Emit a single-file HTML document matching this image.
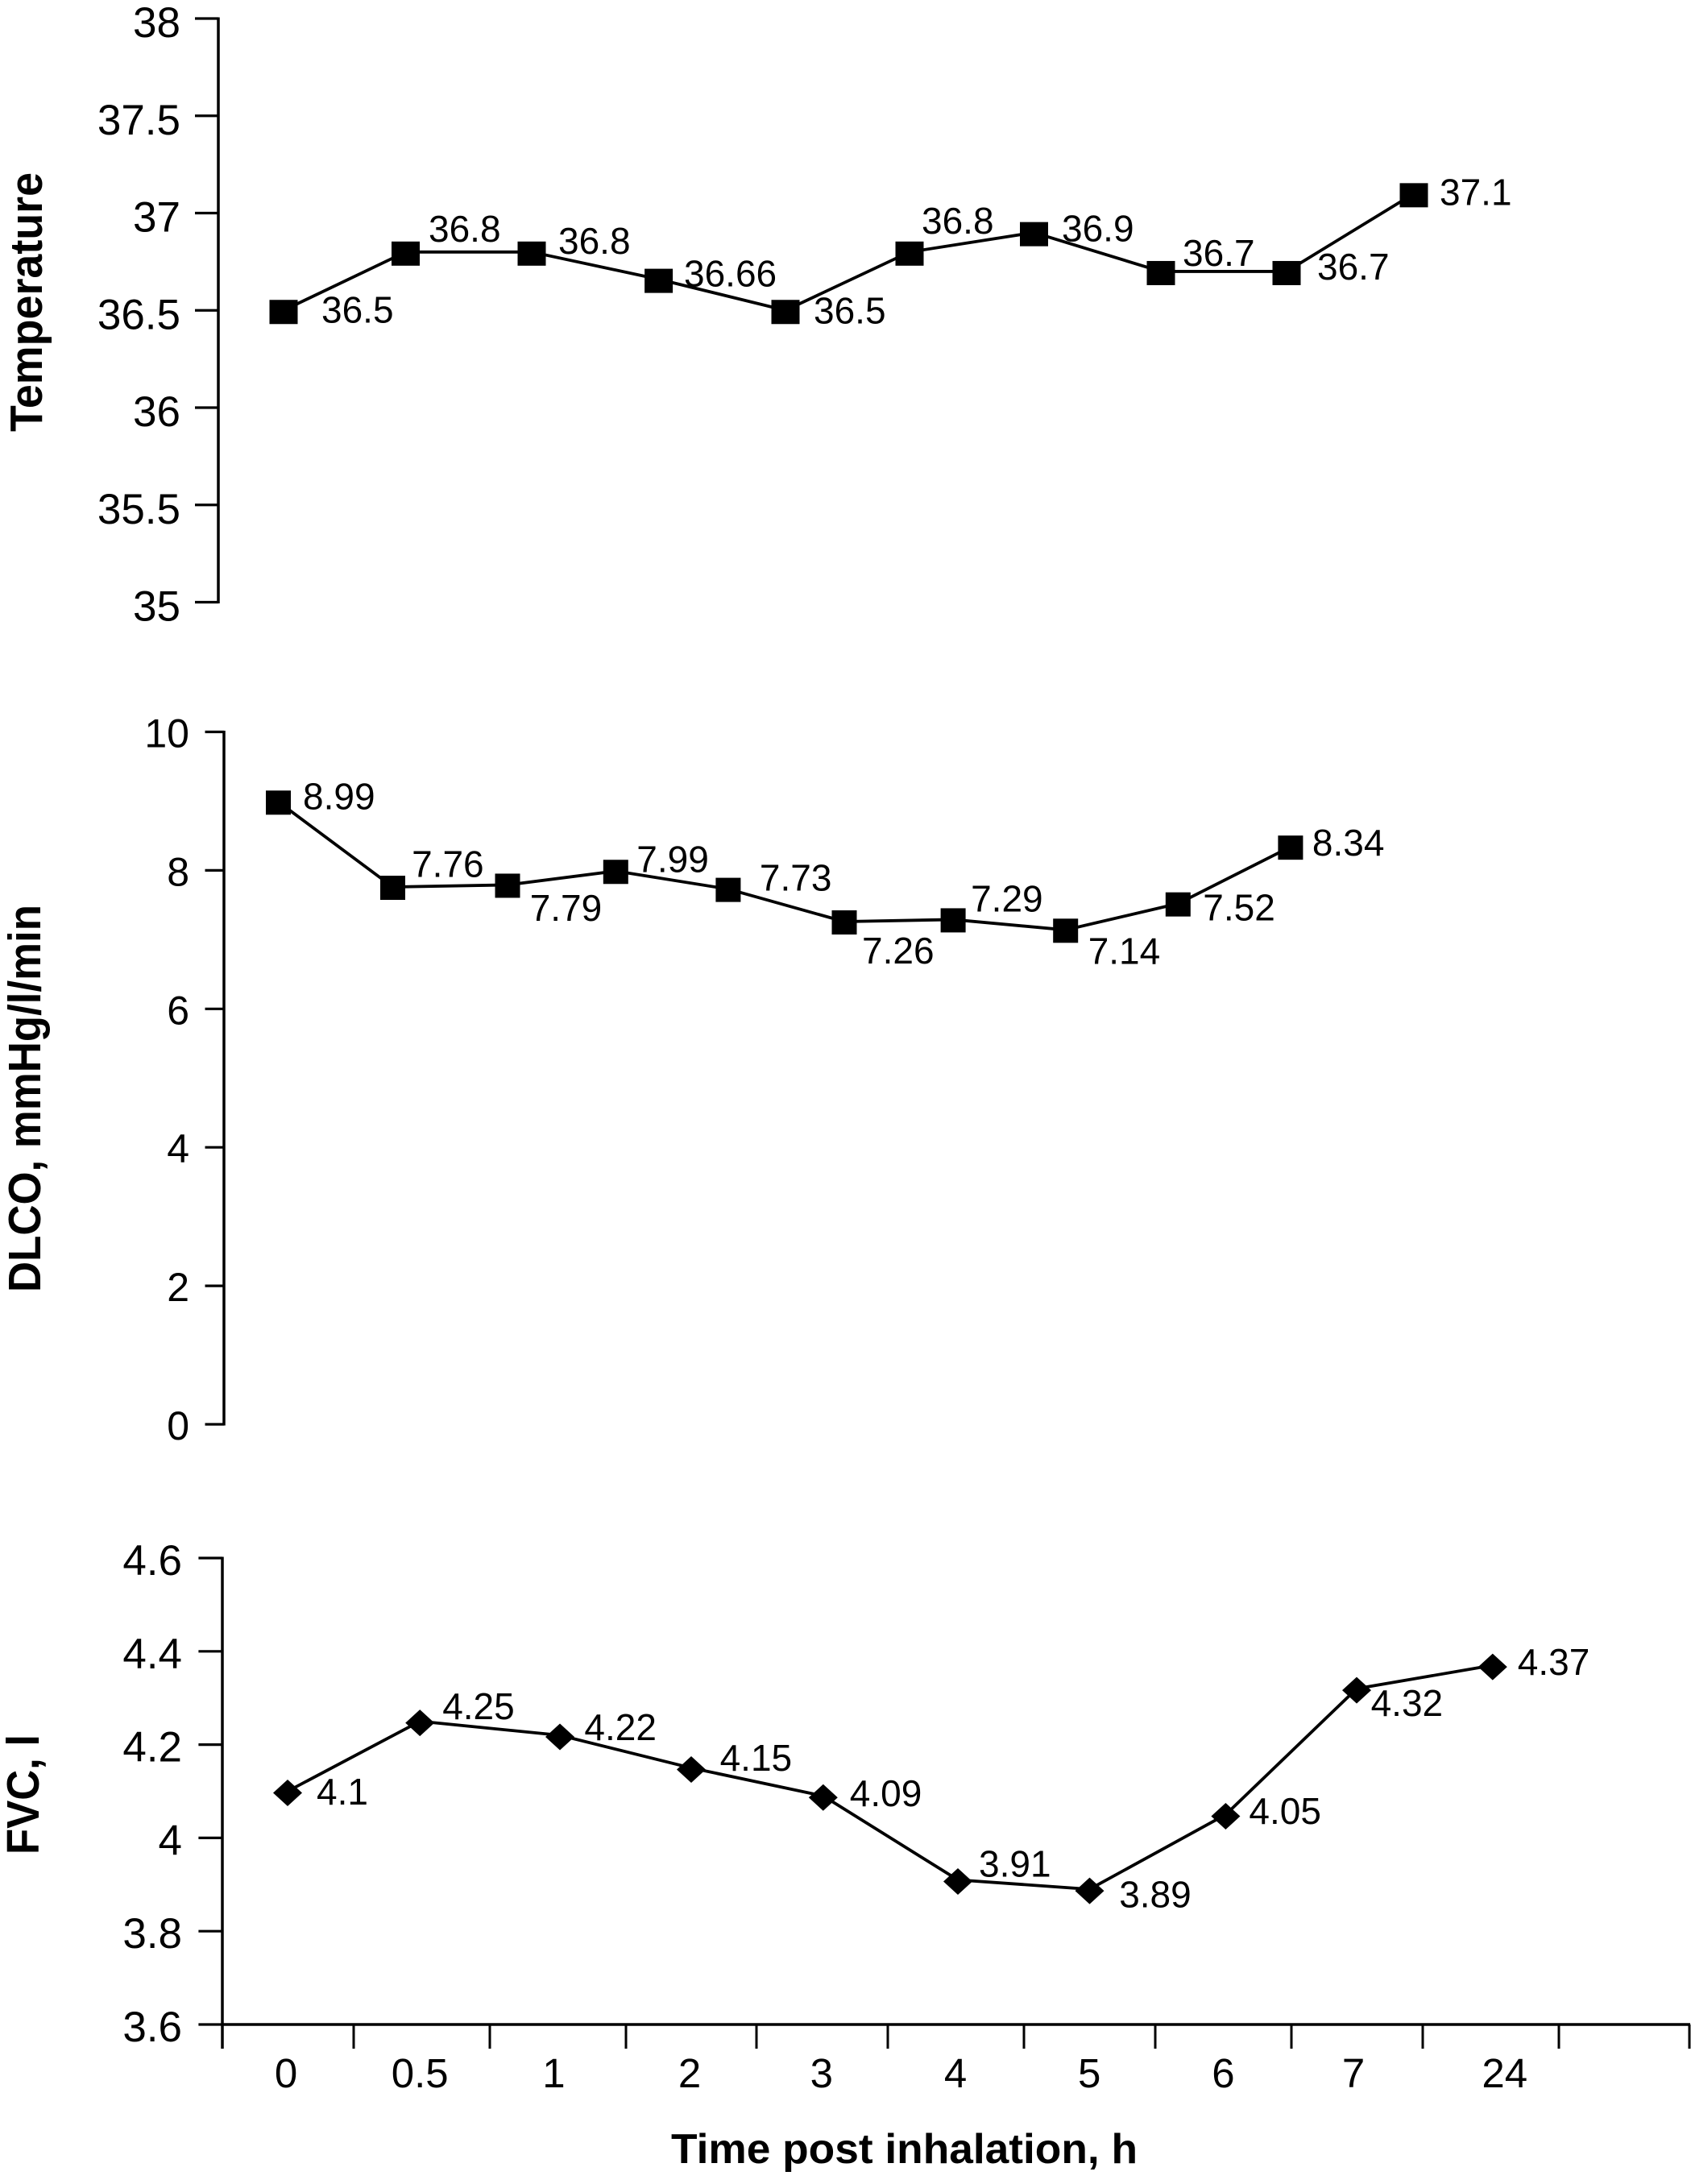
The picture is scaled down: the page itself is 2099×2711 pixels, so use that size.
<!DOCTYPE html>
<html lang="en">
<head>
<meta charset="utf-8">
<title>Temperature, DLCO and FVC after inhalation</title>
<style>
html,body{margin:0;padding:0;background:#fff;}
svg{display:block;}
text{font-family:"Liberation Sans",Arial,sans-serif;fill:#000;}
.val{font-size:46px;}
.title{font-size:57px;font-weight:bold;}
.xtitle{font-size:52px;font-weight:bold;}
.xtick{font-size:51px;}
</style>
</head>
<body>
<svg id="chart" xmlns="http://www.w3.org/2000/svg" width="2099" height="2711" viewBox="0 0 2099 2711">
  <rect x="0" y="0" width="2099" height="2711" fill="#fff"/>
  <text class="title" transform="translate(52,536) rotate(-90)" textLength="322" lengthAdjust="spacingAndGlyphs">Temperature</text>
  <text class="title" transform="translate(50,1604) rotate(-90)" textLength="481" lengthAdjust="spacingAndGlyphs">DLCO, mmHg/l/min</text>
  <text class="title" transform="translate(48,2302) rotate(-90)" textLength="149" lengthAdjust="spacingAndGlyphs">FVC, l</text>
  <text class="xtitle" x="833" y="2685" textLength="579" lengthAdjust="spacingAndGlyphs">Time post inhalation, h</text>
  <g id="plots"></g>
</svg>
<script>
// Data
const categories = ['0', '0.5', '1', '2', '3', '4', '5', '6', '7', '24'];
const temperatureValues = [36.5, 36.8, 36.8, 36.66, 36.5, 36.8, 36.9, 36.7, 36.7, 37.1];
const dlcoValues = [8.99, 7.76, 7.79, 7.99, 7.73, 7.26, 7.29, 7.14, 7.52, 8.34];
const fvcValues = [4.1, 4.25, 4.22, 4.15, 4.09, 3.91, 3.89, 4.05, 4.32, 4.37];
const temperatureTicks = ['35', '35.5', '36', '36.5', '37', '37.5', '38'];
const dlcoTicks = ['0', '2', '4', '6', '8', '10'];
const fvcTicks = ['3.6', '3.8', '4', '4.2', '4.4', '4.6'];

// Layout (separate from data)
const tempLayout = {axisX: 271, tickLeft: 242, labelRight: 224, labelDy: 23, tickFont: 53, yTop: 23, yBottom: 747.5, vTop: 38, vBottom: 35, x0: 350, step: 156, mw: 35, mh: 30, markDy: 2,
  nudge: [2, -2.5, -2, -0.4, 1, -1, -2.5, -1, -1, 1],
  dx: [49, 26, 31, 31, 36, 14, 32, 26, 37, 33], dy: [15, -13, 2, 9, 16, -23, 11, -7, 10, 14]};
const dlcoLayout = {axisX: 278, tickLeft: 254.5, labelRight: 235, labelDy: 19, tickFont: 50, yTop: 908.5, yBottom: 1768, vTop: 10, vBottom: 0, x0: 345.5, step: 139.6, mw: 31, mh: 30, markDy: 1,
  nudge: [0, 2.4, 5.3, 0, 0, 4.5, 0, 0, 0, 0],
  dx: [30.5, 26, 33, 26, 39, 26.5, 22, 28, 31, 27], dy: [9, -12.5, 44.6, 1, 2, 52, -10, 42, 21, 11]};
const fvcLayout = {axisX: 276, tickLeft: 246.4, labelRight: 226, labelDy: 21, tickFont: 53, yTop: 1934, yBottom: 2513, vTop: 4.6, vBottom: 3.6, x0: 357, step: 166.2, mw: 36, mh: 33, markDy: 2,
  nudge: [0, -2, 5.6, 2.4, 0, 1, -1.7, 1, -2.6, 0],
  dx: [36, 26, 36, 38, 33, 27, 35, 30, 15, 31], dy: [16.5, -2.6, 6, 3.5, 12.7, -4, 22.6, 11.5, 34, 12]};
const xTickNudge = [0, -2.5, 1, 4.5, 1, -1.5, 2, -0.5, 3, 0.5, 4, 0.5];
const xLabelNudge = [0, 0, 0, 2.4, 0, 0, 0, 0, -4.6, 17];

const NS = 'http://www.w3.org/2000/svg';
const root = document.getElementById('plots');

function make(tag, props, parent) {
  const el = document.createElementNS(NS, tag);
  for (const k in props) el.setAttribute(k, props[k]);
  parent.appendChild(el);
  return el;
}

function drawPanel(prefix, values, ticks, L, marker) {
  const xScale = i => L.x0 + L.step * i;
  const yScale = v => L.yTop + (L.vTop - v) * (L.yBottom - L.yTop) / (L.vTop - L.vBottom);

  const group = make('g', {}, root);
  
  

  const axis = make('line', {x1: L.axisX, x2: L.axisX, y1: L.yTop - 1.5, y2: prefix === 'fvc' ? 2543 : L.yBottom + 1.5, stroke: '#000', 'stroke-width': 3.5}, group);
  
  

  ticks.forEach(t => {
    const y = yScale(parseFloat(t));
    const tick = make('line', {x1: L.tickLeft, x2: L.axisX, y1: y, y2: y, stroke: '#000', 'stroke-width': 3.2}, group);
    
    
    const label = make('text', {x: L.labelRight, y: y + L.labelDy, 'text-anchor': 'end', 'font-size': L.tickFont}, group);
    label.textContent = t;
    
    
  });

  const pts = values.map((v, i) => (xScale(i) + L.nudge[i]) + ',' + yScale(v)).join(' ');
  const line = make('polyline', {points: pts, fill: 'none', stroke: '#000', 'stroke-width': 3.8, 'stroke-linejoin': 'round'}, group);
  
  

  values.forEach((v, i) => {
    const x = xScale(i) + L.nudge[i], y = yScale(v) + L.markDy;
    let m;
    if (marker === 'diamond') {
      m = make('polygon', {points: [[x, y - L.mh / 2], [x + L.mw / 2, y], [x, y + L.mh / 2], [x - L.mw / 2, y]].map(p => p.join(',')).join(' '), fill: '#000'}, group);
    } else {
      m = make('rect', {x: x - L.mw / 2, y: y - L.mh / 2, width: L.mw, height: L.mh, fill: '#000'}, group);
    }
    
    
    const label = make('text', {x: xScale(i) + L.dx[i], y: yScale(v) + L.dy[i], class: 'val'}, group);
    label.textContent = String(v);
    
    
  });
}

drawPanel('temperature', temperatureValues, temperatureTicks, tempLayout, 'square');
drawPanel('dlco', dlcoValues, dlcoTicks, dlcoLayout, 'square');
drawPanel('fvc', fvcValues, fvcTicks, fvcLayout, 'diamond');

// Shared x axis under the FVC panel
const xAxisY = fvcLayout.yBottom;
const xLeft = fvcLayout.axisX;
const bandWidth = 165.5;
const xAxis = make('line', {x1: xLeft, x2: 2098, y1: xAxisY, y2: xAxisY, stroke: '#000', 'stroke-width': 3.5}, root);



for (let i = 1; i <= categories.length + 1; i++) {
  const x = xLeft + bandWidth * i + xTickNudge[i];
  const tick = make('line', {x1: x, x2: x, y1: xAxisY, y2: 2543, stroke: '#000', 'stroke-width': 3}, root);
  
  
}

categories.forEach((c, i) => {
  const cx = fvcLayout.x0 + fvcLayout.step * i - 2 + xLabelNudge[i];
  const label = make('text', {x: cx, y: 2591, 'text-anchor': 'middle', class: 'xtick'}, root);
  label.textContent = c;
  
  
});
</script>
</body>
</html>
